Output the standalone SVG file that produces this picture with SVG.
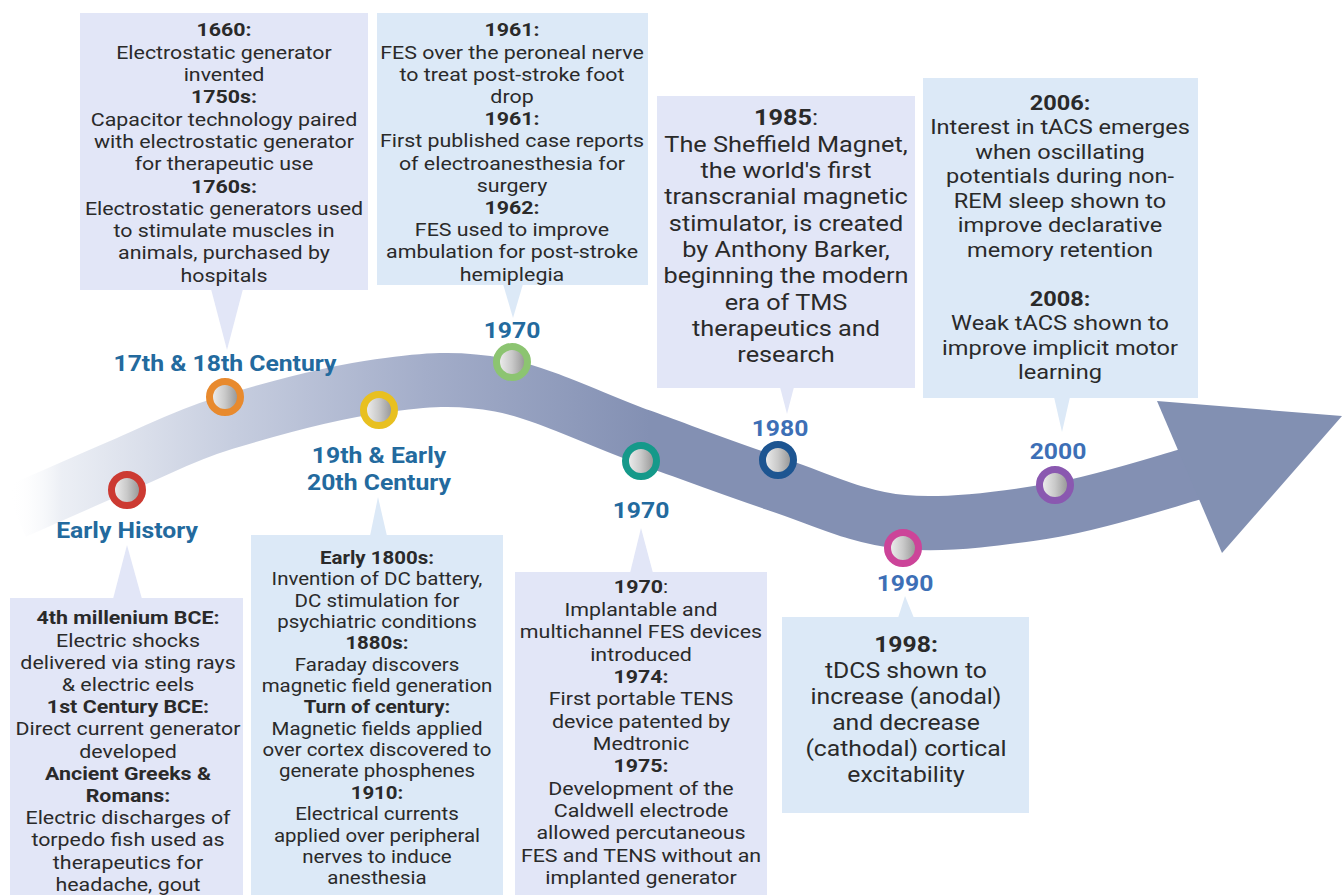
<svg xmlns="http://www.w3.org/2000/svg" width="1342" height="895" viewBox="0 0 1342 895">
<defs>
<style>
.body{font-family:Roboto,"Liberation Sans",sans-serif;fill:#2a2a2a;text-anchor:middle}
.b{font-weight:700}
.s186{font-size:18.6px}
.s178{font-size:17.8px}
.s205{font-size:20.5px}
.s215{font-size:21.5px}
.s22{font-size:22px}
.lbl{font-family:Roboto,"Liberation Sans",sans-serif;font-weight:700;font-size:21.5px;text-anchor:middle}
.c1{fill:#236a9e}
.c2{fill:#3d6fb6}
.lav{fill:#e2e6f7}
.blu{fill:#dce9f7}
.ring{stroke-width:7;fill:url(#ball)}
</style>
<linearGradient id="band" gradientUnits="userSpaceOnUse" x1="10" y1="0" x2="650" y2="0">
<stop offset="0" stop-color="#ffffff" stop-opacity="0"/>
<stop offset="0.08" stop-color="#eceff5"/>
<stop offset="0.35" stop-color="#c6cddf"/>
<stop offset="0.65" stop-color="#a3adc9"/>
<stop offset="1" stop-color="#8390b3"/>
</linearGradient>
<linearGradient id="ball" x1="0" y1="0" x2="1" y2="0">
<stop offset="0" stop-color="#f4f4f4"/>
<stop offset="0.5" stop-color="#c9c9c9"/>
<stop offset="1" stop-color="#8c8c8c"/>
</linearGradient>
</defs>
<rect width="1342" height="895" fill="#ffffff"/>

<g id="timeline">
<path d="M15,512 C33.7,503.8 92,477.8 127,463 C162,448.2 183,435.8 225,423 C267,410.2 333.2,392.3 379,386 C424.8,379.7 456.3,376.7 500,385 C543.7,393.3 594.7,419.3 641,436 C687.3,452.7 734.3,470.7 778,485 C821.7,499.3 856.8,517.8 903,522 C949.2,526.2 1006.3,518.2 1055,510 C1103.7,501.8 1171.7,479.2 1195,473" fill="none" stroke="url(#band)" stroke-width="54"/>
<polygon points="1157,401 1342,416 1222,553" fill="#8290b2"/>
</g>

<g id="connectors">
<polygon class="lav" points="211,289 243,289 227,350"/>
<polygon class="blu" points="503,284 523,284 513,318"/>
<polygon class="lav" points="780,387 794,387 787,414"/>
<polygon class="blu" points="1054,397 1070,397 1062,432"/>
<polygon class="lav" points="113,599 142,599 127,545"/>
<polygon class="blu" points="370,536 387,536 378,497"/>
<polygon class="lav" points="630,573 653,573 641,528"/>
<polygon class="blu" points="898,618 914,618 905,596"/>
</g>

<g id="markers">
<circle cx="127" cy="490" r="15.5" class="ring" stroke="#cc3a32"/>
<circle cx="225" cy="397" r="15.5" class="ring" stroke="#e88a2e"/>
<circle cx="379" cy="410" r="15.5" class="ring" stroke="#e8c020"/>
<circle cx="512" cy="362" r="15.5" class="ring" stroke="#8cc471"/>
<circle cx="641" cy="461" r="15.5" class="ring" stroke="#15998a"/>
<circle cx="778" cy="460" r="15.5" class="ring" stroke="#1d5591"/>
<circle cx="903" cy="548" r="15.5" class="ring" stroke="#cc4499"/>
<circle cx="1055" cy="485" r="15.5" class="ring" stroke="#8a58b0"/>
</g>

<g id="labels">
<text class="lbl c1" transform="translate(127 537.5) scale(1.15 1)">Early History</text>
<text class="lbl c1" transform="translate(225 370.5) scale(1.15 1)">17th &amp; 18th Century</text>
<text class="lbl c1" transform="translate(379 462.5) scale(1.15 1)">19th &amp; Early</text>
<text class="lbl c1" transform="translate(379 489.5) scale(1.15 1)">20th Century</text>
<text class="lbl c1" transform="translate(512 337.5) scale(1.15 1)">1970</text>
<text class="lbl c1" transform="translate(641 517.5) scale(1.15 1)">1970</text>
<text class="lbl c2" transform="translate(780 435.5) scale(1.15 1)">1980</text>
<text class="lbl c2" transform="translate(905 590.5) scale(1.15 1)">1990</text>
<text class="lbl c2" transform="translate(1058 458.5) scale(1.15 1)">2000</text>
</g>

<g id="box-1660">
<rect class="lav" x="80" y="13" width="288" height="277"/>
<g class="body s186" transform="translate(224 0) scale(1.15 1)">
<text y="36.5" class="b">1660:</text>
<text y="58.8">Electrostatic generator</text>
<text y="81.1">invented</text>
<text y="103.4" class="b">1750s:</text>
<text y="125.7">Capacitor technology paired</text>
<text y="148">with electrostatic generator</text>
<text y="170.3">for therapeutic use</text>
<text y="192.6" class="b">1760s:</text>
<text y="214.9">Electrostatic generators used</text>
<text y="237.2">to stimulate muscles in</text>
<text y="259.5">animals, purchased by</text>
<text y="281.8">hospitals</text>
</g>
</g>

<g id="box-1961">
<rect class="blu" x="377" y="13" width="271" height="272"/>
<g class="body s186" transform="translate(512 0) scale(1.15 1)">
<text y="36.5" class="b">1961:</text>
<text y="58.7">FES over the peroneal nerve</text>
<text y="80.9">to treat post-stroke foot</text>
<text y="103.1">drop</text>
<text y="125.3" class="b">1961:</text>
<text y="147.5">First published case reports</text>
<text y="169.7">of electroanesthesia for</text>
<text y="191.9">surgery</text>
<text y="214.1" class="b">1962:</text>
<text y="236.3">FES used to improve</text>
<text y="258.5">ambulation for post-stroke</text>
<text y="280.7">hemiplegia</text>
</g>
</g>

<g id="box-1985">
<rect class="lav" x="657" y="96" width="258" height="292"/>
<g class="body s22" transform="translate(786 0) scale(1.15 1)">
<text y="125.5"><tspan class="b">1985</tspan>:</text>
<text y="151.8">The Sheffield Magnet,</text>
<text y="178.1">the world's first</text>
<text y="204.4">transcranial magnetic</text>
<text y="230.7">stimulator, is created</text>
<text y="257">by Anthony Barker,</text>
<text y="283.3">beginning the modern</text>
<text y="309.6">era of TMS</text>
<text y="335.9">therapeutics and</text>
<text y="362.2">research</text>
</g>
</g>

<g id="box-2006">
<rect class="blu" x="923" y="78" width="275" height="320"/>
<g class="body s205" transform="translate(1060 0) scale(1.15 1)">
<text y="110" class="b">2006:</text>
<text y="134.5">Interest in tACS emerges</text>
<text y="159">when oscillating</text>
<text y="183.5">potentials during non-</text>
<text y="208">REM sleep shown to</text>
<text y="232.5">improve declarative</text>
<text y="257">memory retention</text>
<text y="306" class="b">2008:</text>
<text y="330.5">Weak tACS shown to</text>
<text y="355">improve implicit motor</text>
<text y="379.5">learning</text>
</g>
</g>

<g id="box-early">
<rect class="lav" x="10" y="598" width="233" height="297"/>
<g class="body s186" transform="translate(128 0) scale(1.15 1)">
<text y="624.5" class="b">4th millenium BCE:</text>
<text y="646.7">Electric shocks</text>
<text y="668.9">delivered via sting rays</text>
<text y="691.1">&amp; electric eels</text>
<text y="713.3" class="b">1st Century BCE:</text>
<text y="735.5">Direct current generator</text>
<text y="757.7">developed</text>
<text y="779.9" class="b">Ancient Greeks &amp;</text>
<text y="802.1" class="b">Romans:</text>
<text y="824.3">Electric discharges of</text>
<text y="846.5">torpedo fish used as</text>
<text y="868.7">therapeutics for</text>
<text y="890.9">headache, gout</text>
</g>
</g>

<g id="box-1800s">
<rect class="blu" x="251" y="535" width="252" height="360"/>
<g class="body s178" transform="translate(377 0) scale(1.15 1)">
<text y="564" class="b">Early 1800s:</text>
<text y="585.35">Invention of DC battery,</text>
<text y="606.7">DC stimulation for</text>
<text y="628.05">psychiatric conditions</text>
<text y="649.4" class="b">1880s:</text>
<text y="670.75">Faraday discovers</text>
<text y="692.1">magnetic field generation</text>
<text y="713.45" class="b">Turn of century:</text>
<text y="734.8">Magnetic fields applied</text>
<text y="756.15">over cortex discovered to</text>
<text y="777.5">generate phosphenes</text>
<text y="798.85" class="b">1910:</text>
<text y="820.2">Electrical currents</text>
<text y="841.55">applied over peripheral</text>
<text y="862.9">nerves to induce</text>
<text y="884.25">anesthesia</text>
</g>
</g>

<g id="box-1970">
<rect class="lav" x="515" y="572" width="252" height="323"/>
<g class="body s186" transform="translate(641 0) scale(1.15 1)">
<text y="593.5"><tspan class="b">1970</tspan>:</text>
<text y="615.85">Implantable and</text>
<text y="638.2">multichannel FES devices</text>
<text y="660.55">introduced</text>
<text y="682.9" class="b">1974:</text>
<text y="705.25">First portable TENS</text>
<text y="727.6">device patented by</text>
<text y="749.95">Medtronic</text>
<text y="772.3" class="b">1975:</text>
<text y="794.65">Development of the</text>
<text y="817">Caldwell electrode</text>
<text y="839.35">allowed percutaneous</text>
<text y="861.7">FES and TENS without an</text>
<text y="884.05">implanted generator</text>
</g>
</g>

<g id="box-1998">
<rect class="blu" x="782" y="617" width="247" height="196"/>
<g class="body s215" transform="translate(906 0) scale(1.15 1)">
<text y="652.5" class="b">1998:</text>
<text y="678.5">tDCS shown to</text>
<text y="704.5">increase (anodal)</text>
<text y="730.5">and decrease</text>
<text y="756.5">(cathodal) cortical</text>
<text y="782.5">excitability</text>
</g>
</g>
</svg>
